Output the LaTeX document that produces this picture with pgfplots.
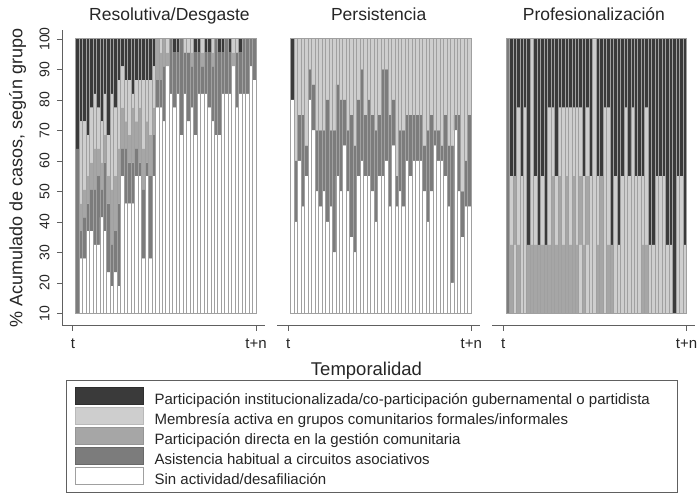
\documentclass[border=0pt]{standalone}
\usepackage{fontspec}
\setmainfont{Liberation Sans}
\usepackage{pgfplots}
\pgfplotsset{compat=1.18}
\usepackage{pgfplotstable}
\definecolor{cI}{HTML}{3A3A3A}
\definecolor{cM}{HTML}{CECECE}
\definecolor{cD}{HTML}{A6A6A6}
\definecolor{cA}{HTML}{7C7C7C}
\definecolor{cLine}{HTML}{A0A0A0}
\definecolor{cAxis}{HTML}{606060}
\definecolor{cText}{HTML}{262626}

% Panel 1: base, Sin actividad (W), Asistencia (A), Directa (D), Membresia (M), Institucional (I); T = top of bar
\pgfplotstableread{
x B W A D M I T
1 10 0 54 0 0 36 100
2 10 18 9 9 27 27 100
3 10 18 13.5 9 22.5 27 100
4 10 27 9 9 13.5 31.5 100
5 10 27 13.5 9 18 22.5 100
6 10 22.5 18 13.5 18 18 100
7 10 22.5 22.5 9 13.5 22.5 100
8 10 31.5 9 9 13.5 27 100
9 10 27 22.5 9 13.5 18 100
10 10 13.5 22.5 9 13.5 31.5 100
11 10 9 13.5 18 31.5 18 100
12 10 13.5 13.5 18 22.5 22.5 100
13 10 9 27 18 22.5 13.5 100
14 10 45 9 13.5 13.5 9 100
15 10 36 18 9 13.5 13.5 100
16 10 36 13.5 9 18 13.5 100
17 10 36 13.5 18 4.5 18 100
18 10 45 9 9 13.5 13.5 100
19 10 45 4.5 18 9 13.5 100
20 10 18 22.5 13.5 22.5 13.5 100
21 10 45 4.5 13.5 13.5 13.5 100
22 10 18 27 13.5 18 13.5 100
23 10 45 13.5 9 13.5 9 100
24 10 67.5 9 13.5 0 0 100
25 10 67.5 9 9 4.5 0 100
26 10 63 18 9 0 0 100
27 10 81 0 4.5 4.5 0 100
28 10 72 18 0 0 0 100
29 10 67.5 18 0 0 4.5 100
30 10 72 13.5 0 0 4.5 100
31 10 58.5 31.5 0 0 0 100
32 10 72 13.5 0 4.5 0 100
33 10 63 22.5 0 4.5 0 100
34 10 67.5 13.5 4.5 4.5 0 100
35 10 58.5 27 0 0 4.5 100
36 10 72 13.5 0 0 4.5 100
37 10 72 9 4.5 4.5 0 100
38 10 72 13.5 0 0 4.5 100
39 10 67.5 18 0 0 4.5 100
40 10 63 18 4.5 4.5 0 100
41 10 58.5 31.5 0 0 0 100
42 10 58.5 27 0 0 4.5 100
43 10 72 13.5 0 0 4.5 100
44 10 72 18 0 0 0 100
45 10 72 13.5 0 0 4.5 100
46 10 81 0 4.5 4.5 0 100
47 10 67.5 18 0 4.5 0 100
48 10 72 13.5 0 0 4.5 100
49 10 72 18 0 0 0 100
50 10 72 18 0 0 0 100
51 10 81 9 0 0 0 100
52 10 76.5 13.5 0 0 0 100
}\pone

% Panel 2: base, W, A, M, I; T = top of bar
\pgfplotstableread{
x B W A M I T
1 10 70 0 0 20 100
2 10 30 20 40 0 100
3 10 50 15 25 0 100
4 10 35 30 25 0 100
5 10 45 10 35 0 100
6 10 70 10 10 0 100
7 10 60 15 15 0 100
8 10 40 20 30 0 100
9 10 35 25 30 0 100
10 10 40 20 30 0 100
11 10 30 40 20 0 100
12 10 35 25 30 0 100
13 10 20 40 30 0 100
14 10 45 30 15 0 100
15 10 40 30 20 0 100
16 10 55 15 20 0 100
17 10 40 20 30 0 100
18 10 25 40 25 0 100
19 10 20 35 35 0 100
20 10 45 25 20 0 100
21 10 50 30 10 0 100
22 10 45 20 25 0 100
23 10 45 25 20 0 100
24 10 40 25 25 0 100
25 10 30 30 30 0 100
26 10 45 20 25 0 100
27 10 45 35 10 0 100
28 10 50 30 10 0 100
29 10 35 30 25 0 100
30 10 55 15 20 0 100
31 10 35 10 45 0 100
32 10 40 20 30 0 100
33 10 35 25 30 0 100
34 10 50 15 25 0 100
35 10 45 20 25 0 100
36 10 50 15 25 0 100
37 10 50 15 25 0 100
38 10 50 15 25 0 100
39 10 40 15 35 0 100
40 10 30 30 30 0 100
41 10 40 25 25 0 100
42 10 55 5 30 0 100
43 10 50 10 30 0 100
44 10 50 5 35 0 100
45 10 45 20 25 0 100
46 10 35 20 35 0 100
47 10 10 45 35 0 100
48 10 60 5 25 0 100
49 10 40 25 25 0 100
50 10 25 15 50 0 100
51 10 35 15 40 0 100
52 10 35 30 25 0 100
}\ptwo

% Panel 3: runs of states from bottom (segment 1..4), one column per segment and state; T = top of bar
\pgfplotstableread{
x B s1A s1D s1M s1I s2D s2M s2I s3M s3I s4I T
1 10 90 0 0 0 0 0 0 0 0 0 100
2 10 0 22.5 0 0 0 22.5 0 0 45 0 100
3 10 0 0 22.5 0 22.5 0 0 0 45 0 100
4 10 0 22.5 0 0 0 45 0 0 22.5 0 100
5 10 0 0 45 0 0 0 45 0 0 0 100
6 10 0 0 67.5 0 0 0 22.5 0 0 0 100
7 10 0 22.5 0 0 0 0 67.5 0 0 0 100
8 10 0 22.5 0 0 0 67.5 0 0 0 0 100
9 10 0 22.5 0 0 0 22.5 0 0 45 0 100
10 10 0 22.5 0 0 0 0 67.5 0 0 0 100
11 10 0 22.5 0 0 0 22.5 0 0 45 0 100
12 10 0 22.5 0 0 0 0 67.5 0 0 0 100
13 10 0 22.5 0 0 0 45 0 0 22.5 0 100
14 10 0 45 0 0 0 22.5 0 0 22.5 0 100
15 10 0 22.5 0 0 0 22.5 0 0 45 0 100
16 10 0 45 0 0 0 22.5 0 0 22.5 0 100
17 10 0 22.5 0 0 0 45 0 0 22.5 0 100
18 10 0 45 0 0 0 22.5 0 0 22.5 0 100
19 10 0 22.5 0 0 0 45 0 0 22.5 0 100
20 10 0 45 0 0 0 22.5 0 0 22.5 0 100
21 10 0 22.5 0 0 0 45 0 0 22.5 0 100
22 10 0 0 22.5 0 22.5 0 0 22.5 0 22.5 100
23 10 0 22.5 0 0 0 22.5 0 0 45 0 100
24 10 0 0 22.5 0 22.5 0 0 22.5 0 22.5 100
25 10 0 0 45 0 0 0 45 0 0 0 100
26 10 0 0 90 0 0 0 0 0 0 0 100
27 10 0 22.5 0 0 0 22.5 0 0 45 0 100
28 10 0 45 0 0 0 0 45 0 0 0 100
29 10 0 0 67.5 0 0 0 22.5 0 0 0 100
30 10 0 22.5 0 0 0 45 0 0 22.5 0 100
31 10 0 22.5 0 0 0 0 67.5 0 0 0 100
32 10 0 0 45 0 0 0 45 0 0 0 100
33 10 0 0 22.5 0 0 0 67.5 0 0 0 100
34 10 0 0 45 0 0 0 45 0 0 0 100
35 10 0 0 67.5 0 0 0 22.5 0 0 0 100
36 10 0 0 45 0 0 0 45 0 0 0 100
37 10 0 0 67.5 0 0 0 22.5 0 0 0 100
38 10 0 0 45 0 0 0 45 0 0 0 100
39 10 0 0 45 0 0 0 45 0 0 0 100
40 10 0 22.5 0 0 0 22.5 0 0 45 0 100
41 10 0 22.5 0 0 0 45 0 0 22.5 0 100
42 10 0 0 22.5 0 0 0 67.5 0 0 0 100
43 10 0 0 22.5 0 0 0 67.5 0 0 0 100
44 10 0 0 45 0 0 0 45 0 0 0 100
45 10 0 0 45 0 0 0 45 0 0 0 100
46 10 0 0 45 0 0 0 45 0 0 0 100
47 10 0 0 22.5 0 0 0 67.5 0 0 0 100
48 10 0 0 22.5 0 0 0 67.5 0 0 0 100
49 10 0 0 0 90 0 0 0 0 0 0 100
50 10 0 0 45 0 0 0 45 0 0 0 100
51 10 0 0 45 0 0 0 45 0 0 0 100
52 10 0 0 22.5 0 0 0 67.5 0 0 0 100
}\pthree

\pgfplotsset{
  panel/.style={
    scale only axis, width=203pt, height=295.9pt,
    xmin=-3.44, xmax=55.06, ymin=6, ymax=103,
    ybar stacked, bar width=1,
    axis x line*=bottom,
    xtick={-0.3,52.5}, xticklabels={t,t+n},
    xticklabel shift=5pt,
    tick align=outside, major tick length=5pt,
    axis line style={draw=cAxis, line width=0.8pt},
    tick style={draw=cAxis, line width=0.8pt},
    tick label style={font=\fontsize{15}{15}\selectfont, text=cText},
    title style={font=\fontsize{17.5}{17.5}\selectfont, text=cText, at={(0.5,1)}, anchor=base, yshift=3pt},
    every axis plot/.append style={draw=none},
  },
  outline/.style={
    hide axis, scale only axis, width=203pt, height=283.7pt,
    xmin=-3.44, xmax=55.06, ymin=10, ymax=103,
    ybar, bar width=1,
  },
}

\begin{document}
\begin{tikzpicture}
\useasboundingbox (0,0) rectangle (697pt,-494pt);
\fill[white] (0,0) rectangle (697pt,-494pt);

% Panel 1
\begin{axis}[panel, at={(62pt,-325.7pt)}, anchor=south west,
  title={Resolutiva/Desgaste}, title style={xshift=6pt},
  axis y line*=left, ytick={10,20,...,100},
  yticklabels={10,20,30,40,50,60,70,80,90,100},
  yticklabel shift=4pt,
  yticklabel style={rotate=90, anchor=south, font=\fontsize{14}{14}\selectfont}]
\addplot[fill=none] table[x=x,y=B]{\pone};
\addplot[fill=white] table[x=x,y=W]{\pone};
\addplot[fill=cA] table[x=x,y=A]{\pone};
\addplot[fill=cD] table[x=x,y=D]{\pone};
\addplot[fill=cM] table[x=x,y=M]{\pone};
\addplot[fill=cI] table[x=x,y=I]{\pone};
\end{axis}
\begin{axis}[outline, at={(62pt,-313.5pt)}, anchor=south west]
\addplot[fill=none, draw=cLine, line width=0.9pt] table[x=x,y=T]{\pone};
\end{axis}

% Panel 2
\begin{axis}[panel, at={(277.2pt,-325.7pt)}, anchor=south west,
  title={Persistencia}, axis y line=none]
\addplot[fill=none] table[x=x,y=B]{\ptwo};
\addplot[fill=white] table[x=x,y=W]{\ptwo};
\addplot[fill=cA] table[x=x,y=A]{\ptwo};
\addplot[fill=cM] table[x=x,y=M]{\ptwo};
\addplot[fill=cI] table[x=x,y=I]{\ptwo};
\end{axis}
\begin{axis}[outline, at={(277.2pt,-313.5pt)}, anchor=south west]
\addplot[fill=none, draw=cLine, line width=0.9pt] table[x=x,y=T]{\ptwo};
\end{axis}

% Panel 3
\begin{axis}[panel, at={(492.4pt,-325.7pt)}, anchor=south west,
  title={Profesionalización}, axis y line=none]
\addplot[fill=none] table[x=x,y=B]{\pthree};
\addplot[fill=cA] table[x=x,y=s1A]{\pthree};
\addplot[fill=cD] table[x=x,y=s1D]{\pthree};
\addplot[fill=cM] table[x=x,y=s1M]{\pthree};
\addplot[fill=cI] table[x=x,y=s1I]{\pthree};
\addplot[fill=cD] table[x=x,y=s2D]{\pthree};
\addplot[fill=cM] table[x=x,y=s2M]{\pthree};
\addplot[fill=cI] table[x=x,y=s2I]{\pthree};
\addplot[fill=cM] table[x=x,y=s3M]{\pthree};
\addplot[fill=cI] table[x=x,y=s3I]{\pthree};
\addplot[fill=cI] table[x=x,y=s4I]{\pthree};
\end{axis}
\begin{axis}[outline, at={(492.4pt,-313.5pt)}, anchor=south west]
\addplot[fill=none, draw=cLine, line width=0.9pt] table[x=x,y=T]{\pthree};
\end{axis}

% Legend
\draw[cAxis, line width=0.8pt] (66.7pt,-380pt) rectangle (677pt,-492.5pt);
\begin{axis}[hide axis, scale only axis, width=1pt, height=1pt,
  at={(66.7pt,-380pt)}, anchor=north west,
  xmin=0, xmax=1, ymin=0, ymax=1,
  legend image code/.code={\draw[#1, line width=0.7pt] (0pt,-3.5pt) rectangle (68pt,13.5pt);},
  legend cell align=left,
  legend style={at={(0,1)}, anchor=north west, draw=none, fill=none,
    inner xsep=8pt, inner ysep=7pt, row sep=-0.4pt, column sep=11pt,
    font=\fontsize{15}{16}\selectfont, text=cText,
    nodes={inner sep=0pt, text height=10pt, text depth=3pt}}]
\addlegendimage{fill=cI, draw=cI!80!black}
\addlegendentry{Participación institucionalizada/co-participación gubernamental o partidista}
\addlegendimage{fill=cM, draw=cM!90!black}
\addlegendentry{Membresía activa en grupos comunitarios formales/informales}
\addlegendimage{fill=cD, draw=cD!90!black}
\addlegendentry{Participación directa en la gestión comunitaria}
\addlegendimage{fill=cA, draw=cA!85!black}
\addlegendentry{Asistencia habitual a circuitos asociativos}
\addlegendimage{fill=white, draw=cLine}
\addlegendentry{Sin actividad/desafiliación}
\end{axis}

\node[rotate=90, anchor=base, font=\fontsize{18}{18}\selectfont, text=cText] at (22.5pt,-178pt) {\% Acumulado de casos, según grupo};
\node[anchor=base, font=\fontsize{18.5}{18.5}\selectfont, text=cText] at (366.5pt,-376pt) {Temporalidad};
\end{tikzpicture}
\end{document}
